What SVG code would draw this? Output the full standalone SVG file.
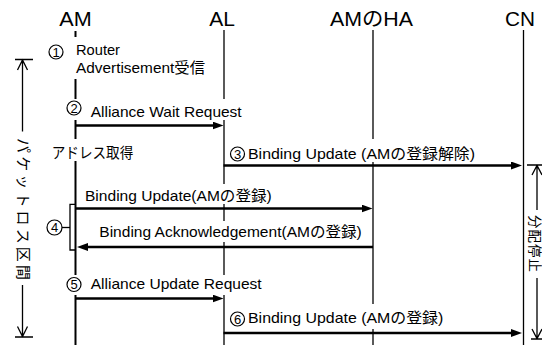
<svg xmlns="http://www.w3.org/2000/svg" width="542" height="345" viewBox="0 0 542 345">
  <style>
    text { font-family: "Liberation Sans", "Noto Sans CJK JP", sans-serif; fill: #000; }
    .head { font-size: 20px; }
    .lbl { font-size: 15px; }
    .num { font-size: 13px; text-anchor: middle; }
    .vert { font-size: 15px; text-anchor: middle; dominant-baseline: central; }
    .life { stroke: #000; stroke-width: 1.3; fill: none; }
    .life-am { stroke: #000; stroke-width: 2; fill: none; }
    .bg { fill: #fff; }
    .circ { fill: #fff; stroke: #000; stroke-width: 1.2; }
    .msg { stroke: #000; stroke-width: 2.6; fill: none; marker-end: url(#head); }
    .thin { stroke: #000; stroke-width: 1.3; fill: none; }
  </style>
  <defs>
    <marker id="head" markerUnits="userSpaceOnUse" markerWidth="12" markerHeight="9" refX="3" refY="4" orient="auto">
      <path d="M0,0 L11,4 L0,8 Z" fill="#000"/>
    </marker>
  </defs>

  <rect width="542" height="345" fill="#fff"/>

  <!-- lifelines with their headers -->
  <g id="am">
    <text class="head" x="59.3" y="26" textLength="32.4" lengthAdjust="spacingAndGlyphs">AM</text>
    <line class="life-am" x1="75.5" y1="31" x2="75.5" y2="345"/>
  </g>
  <g id="al">
    <text class="head" x="209.3" y="26" textLength="25.7" lengthAdjust="spacingAndGlyphs">AL</text>
    <line class="life" x1="224" y1="30" x2="224" y2="345"/>
  </g>
  <g id="ha">
    <text class="head" x="330" y="26" textLength="83" lengthAdjust="spacingAndGlyphs">AMのHA</text>
    <line class="life" x1="373" y1="30" x2="373" y2="345"/>
  </g>
  <g id="cn">
    <text class="head" x="505" y="26" textLength="30" lengthAdjust="spacingAndGlyphs">CN</text>
    <line class="life" x1="523.5" y1="30" x2="523.5" y2="345"/>
  </g>

  <!-- step 1: router advertisement -->
  <g id="step1">
    <rect class="bg" x="47" y="37" width="160" height="42"/>
    <circle class="circ" cx="56" cy="52" r="7"/>
    <text class="num" x="56" y="56.6">1</text>
    <text class="lbl" x="76" y="55" textLength="44" lengthAdjust="spacingAndGlyphs">Router</text>
    <text class="lbl" x="76" y="72.5" textLength="129" lengthAdjust="spacingAndGlyphs">Advertisement受信</text>
  </g>

  <!-- address acquisition -->
  <g id="addr">
    <rect class="bg" x="50" y="139" width="86" height="22"/>
    <text class="lbl" x="51.7" y="158" textLength="81.6" lengthAdjust="spacingAndGlyphs">アドレス取得</text>
  </g>

  <!-- message labels -->
  <g id="step2">
    <rect class="bg" x="66" y="99" width="177" height="21"/>
    <circle class="circ" cx="74" cy="108" r="7"/>
    <text class="num" x="74" y="112.6">2</text>
    <text class="lbl" x="90.7" y="116.5" textLength="151" lengthAdjust="spacingAndGlyphs">Alliance Wait Request</text>
  </g>
  <g id="step3">
    <rect class="bg" x="229" y="139" width="248" height="23"/>
    <circle class="circ" cx="237.5" cy="154" r="7"/>
    <text class="num" x="237.5" y="158.6">3</text>
    <text class="lbl" x="248" y="159" textLength="227" lengthAdjust="spacingAndGlyphs">Binding Update (AMの登録解除)</text>
  </g>
  <g id="step4">
    <rect class="bg" x="84" y="184" width="190" height="20"/>
    <text class="lbl" x="85" y="200.5" textLength="186.7" lengthAdjust="spacingAndGlyphs">Binding Update(AMの登録)</text>
    <rect class="bg" x="98" y="221" width="266" height="21"/>
    <text class="lbl" x="99.3" y="236.5" textLength="262.4" lengthAdjust="spacingAndGlyphs">Binding Acknowledgement(AMの登録)</text>
    <path class="thin" d="M75.5,204.3 H70 V250 H75.5"/>
    <line class="thin" x1="62" y1="227.5" x2="70" y2="227.5"/>
    <circle class="circ" cx="54.5" cy="227.5" r="7.5"/>
    <text class="num" x="54.5" y="232.1">4</text>
  </g>
  <g id="step5">
    <rect class="bg" x="66" y="275" width="197" height="20"/>
    <circle class="circ" cx="74" cy="284.5" r="7"/>
    <text class="num" x="74" y="289.1">5</text>
    <text class="lbl" x="90.7" y="289" textLength="171" lengthAdjust="spacingAndGlyphs">Alliance Update Request</text>
  </g>
  <g id="step6">
    <rect class="bg" x="229" y="304" width="216" height="25"/>
    <circle class="circ" cx="237.5" cy="319" r="7"/>
    <text class="num" x="237.5" y="323.6">6</text>
    <text class="lbl" x="248" y="323" textLength="195.3" lengthAdjust="spacingAndGlyphs">Binding Update (AMの登録)</text>
  </g>

  <!-- messages -->
  <g id="connectors">
    <line class="msg" x1="75.5" y1="125.5" x2="215.5" y2="125.5"/>
    <line class="msg" x1="223.5" y1="165.5" x2="514" y2="165.5"/>
    <line class="msg" x1="75.5" y1="208.5" x2="364.5" y2="208.5"/>
    <line class="msg" x1="373" y1="247" x2="85" y2="247"/>
    <line class="msg" x1="75.5" y1="298.5" x2="215.5" y2="298.5"/>
    <line class="msg" x1="223.5" y1="333" x2="514" y2="333"/>
  </g>

  <!-- packet loss interval -->
  <g id="packet-loss">
    <path class="thin" d="M15,59.5 H33 M22.5,60 V131.5 M17.5,70 L22.5,60 L27.5,70"/>
    <path class="thin" d="M15,337 H33 M22.5,285 V336.5 M17.5,326.5 L22.5,336.5 L27.5,326.5"/>
    <text class="vert" transform="translate(23,209) rotate(90)" x="0" y="0" textLength="142" lengthAdjust="spacing">パケットロス区間</text>
  </g>

  <!-- distribution stop interval -->
  <g id="dist-stop">
    <path class="thin" d="M527,165 H542 M537,165.5 V210 M532,175 L537,165.5 L542,175"/>
    <path class="thin" d="M531,339 H542 M537,278 V338.5 M532,329 L537,338.5 L542,329"/>
    <text class="vert" style="font-size:13.5px" transform="translate(534.5,243.5) rotate(90)" x="0" y="0" textLength="57" lengthAdjust="spacing">分配停止</text>
  </g>
</svg>
